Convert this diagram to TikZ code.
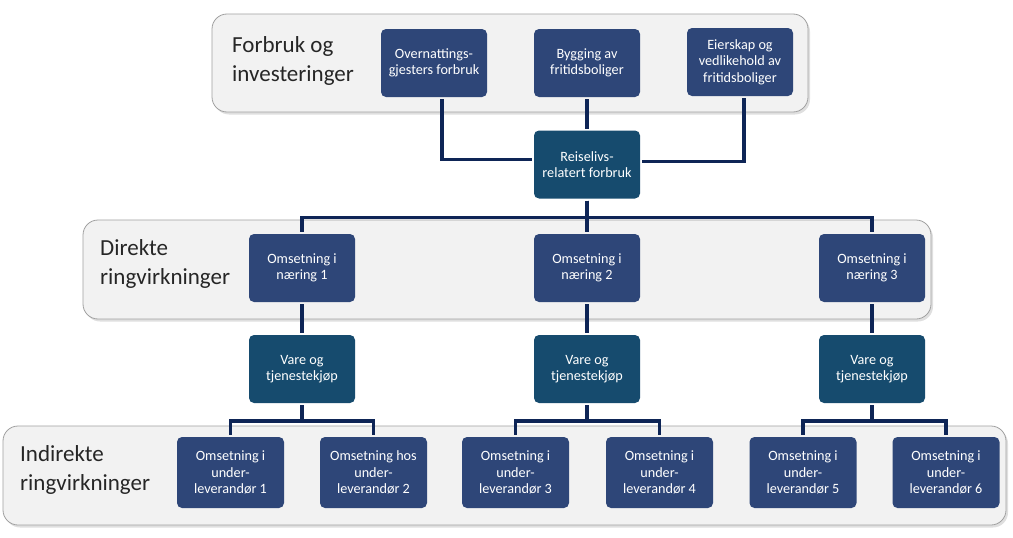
\documentclass[tikz,border=0pt]{standalone}
\usepackage{fontspec}
\setmainfont{Carlito}
\usepackage{tikz}
\usetikzlibrary{positioning,calc,shadows}
\definecolor{boxblue}{RGB}{46,70,120}
\definecolor{boxteal}{RGB}{22,75,110}
\definecolor{linenavy}{RGB}{14,37,86}
\definecolor{bandgray}{RGB}{242,242,242}
\definecolor{bandline}{RGB}{160,160,160}

\begin{document}
\begin{tikzpicture}[x=1pt,y=-1pt,
band/.style={rectangle,rounded corners=15pt,fill=bandgray,draw=bandline,line width=0.8pt,
  drop shadow={opacity=0.25,shadow xshift=2pt,shadow yshift=-2.5pt}},
bandlabel/.style={anchor=west,inner sep=0pt,align=left,font=\fontsize{23}{29}\selectfont,text=black!85},
box/.style={rectangle,rounded corners=5pt,fill=boxblue,text=white,minimum width=106pt,minimum height=68pt,
  inner sep=2pt,outer sep=2pt,align=center,font=\fontsize{14.2}{16.5}\selectfont},
tealbox/.style={box,fill=boxteal},
lowbox/.style={box,minimum width=107pt,minimum height=71pt},
conn/.style={draw=linenavy,line width=3.2pt}]

\useasboundingbox (0,0) rectangle (1013,538);

% bands
\node[band,minimum width=596pt,minimum height=98pt] (forbruk) at (510,63) {};
\node[band,minimum width=848pt,minimum height=99pt] (direkte) at (507,269.5) {};
\node[band,minimum width=1003pt,minimum height=99pt] (indirekte) at (504.5,475.5) {};

% band labels
\node[bandlabel] (lforbruk) at (232,61) {Forbruk og\\investeringer};
\node[bandlabel] (ldirekte) at (100,264) {Direkte\\ringvirkninger};
\node[bandlabel] (lindirekte) at (20,470) {Indirekte\\ringvirkninger};

% top row
\node[box] (ov) at (434,63) {Overnattings-\\gjesters forbruk};
\node[box] (byg) at (587,63) {Bygging av\\fritidsboliger};
\node[box] (eier) at (740,62) {Eierskap og\\vedlikehold av\\fritidsboliger};
\node[tealbox] (rel) at (587,164.5) {Reiselivs-\\relatert forbruk};

% direct effects
\node[box] (n1) at (302,268) {Omsetning i\\næring 1};
\node[box] (n2) at (587,268) {Omsetning i\\næring 2};
\node[box] (n3) at (872,268) {Omsetning i\\næring 3};

\node[tealbox,below=29pt of n1] (v1) {Vare og\\tjenestekjøp};
\node[tealbox,below=29pt of n2] (v2) {Vare og\\tjenestekjøp};
\node[tealbox,below=29pt of n3] (v3) {Vare og\\tjenestekjøp};

% indirect effects
\node[lowbox] (u1) at (230.5,472.5) {Omsetning i\\under-\\leverandør 1};
\node[lowbox] (u2) at (373.5,472.5) {Omsetning hos\\under-\\leverandør 2};
\node[lowbox] (u3) at (515.5,472.5) {Omsetning i\\under-\\leverandør 3};
\node[lowbox] (u4) at (659.5,472.5) {Omsetning i\\under-\\leverandør 4};
\node[lowbox] (u5) at (803,472.5) {Omsetning i\\under-\\leverandør 5};
\node[lowbox] (u6) at (946,472.5) {Omsetning i\\under-\\leverandør 6};

% connectors
\draw[conn] ([xshift=8pt]ov.south) |- ([yshift=5pt]rel.west);
\draw[conn] (byg.south) -- (rel.north);
\draw[conn] ([xshift=4pt]eier.south) |- ([yshift=3pt]rel.east);

\draw[conn] (rel.south) -- ++(0,17) -| (n1.north);
\draw[conn] (rel.south) -- ++(0,17) -| (n3.north);
\draw[conn] (rel.south) -- (n2.north);

\foreach \n in {1,2,3}
  \draw[conn] (n\n.south) -- (v\n.north);

\draw[conn] (v1.south) -- ++(0,16) -| (u1.north);
\draw[conn] (v1.south) -- ++(0,16) -| (u2.north);
\draw[conn] (v2.south) -- ++(0,16) -| (u3.north);
\draw[conn] (v2.south) -- ++(0,16) -| (u4.north);
\draw[conn] (v3.south) -- ++(0,16) -| (u5.north);
\draw[conn] (v3.south) -- ++(0,16) -| (u6.north);
\end{tikzpicture}
\end{document}
